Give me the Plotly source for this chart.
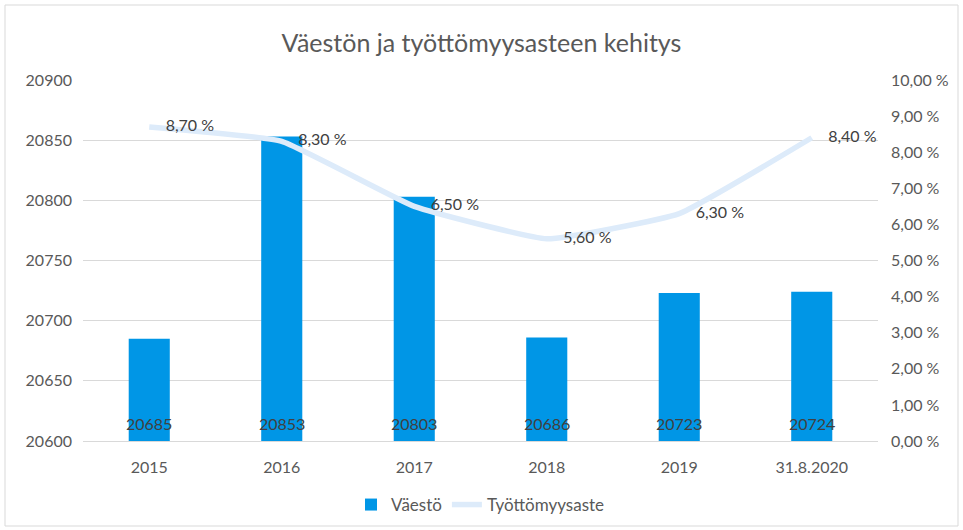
import plotly.graph_objects as go

categories = ["2015", "2016", "2017", "2018", "2019", "31.8.2020"]
vaesto = [20685, 20853, 20803, 20686, 20723, 20724]
tyottomyys = [8.70, 8.30, 6.50, 5.60, 6.30, 8.40]
left_ticks = [20600, 20650, 20700, 20750, 20800, 20850, 20900]
right_ticks = [0, 1, 2, 3, 4, 5, 6, 7, 8, 9, 10]
right_labels = [f"{v:.2f}".replace(".", ",") + " %" for v in right_ticks]
line_labels = ["    " + f"{v:.2f}".replace(".", ",") + " %" for v in tyottomyys]

FONT = "Lato, Open Sans, sans-serif"
TXT = "#595959"

fig = go.Figure()
fig.add_trace(go.Bar(
    x=categories, y=vaesto, name="Väestö",
    marker=dict(color="#0096E6", line=dict(width=0)),
    width=0.31,
))
fig.add_trace(go.Scatter(
    x=categories, y=tyottomyys, name="Työttömyysaste", yaxis="y2",
    mode="lines+text", line=dict(color="#DDEBFA", width=5.5, shape="spline", smoothing=0.35),
    text=line_labels, textposition="middle right",
    textfont=dict(size=16, color="#404040", family=FONT),
    cliponaxis=False,
))

# bar value labels at the bar bases (category index positions)
for i, v in enumerate(vaesto):
    fig.add_annotation(x=i, y=left_ticks[0], xref="x", yref="y", text=str(v),
                       showarrow=False, yanchor="bottom", yshift=6,
                       font=dict(size=16, color="#404040", family=FONT))

L, R, T, B = 83, 85, 80, 89
W, H = 963, 530
pw, ph = W - L - R, H - T - B

def px(x):
    return (x - L) / pw

def py(y):
    return (H - B - y) / ph

fig.add_shape(type="rect", xref="paper", yref="paper",
              x0=px(5), x1=px(958), y0=py(526), y1=py(5),
              line=dict(color="#D9D9D9", width=1), fillcolor="rgba(0,0,0,0)", layer="below")

fig.update_layout(
    width=W, height=H,
    margin=dict(l=L, r=R, t=T, b=B, autoexpand=False),
    paper_bgcolor="white", plot_bgcolor="white",
    font=dict(family=FONT, color=TXT, size=16),
    title=dict(text="Väestön ja työttömyysasteen kehitys", x=0.5, xanchor="center",
               y=1 - 43 / H, yanchor="middle",
               font=dict(size=25, color=TXT, family=FONT)),
    xaxis=dict(type="category", categoryorder="array", categoryarray=categories,
               range=[-0.5, len(categories) - 0.5],
               showgrid=False, showline=True, linecolor="#D9D9D9", linewidth=1,
               ticks="", tickfont=dict(size=16, color=TXT), automargin=False,
               ticklabelstandoff=12),
    yaxis=dict(range=[20600, 20900], tickvals=left_ticks, ticktext=[str(v) for v in left_ticks],
               showgrid=True, gridcolor="#D9D9D9", gridwidth=1, zeroline=False,
               showline=False, ticks="", tickfont=dict(size=16, color=TXT),
               ticklabelstandoff=10, automargin=False),
    yaxis2=dict(range=[0, 10], overlaying="y", side="right", tickvals=right_ticks,
                ticktext=right_labels, showgrid=False, zeroline=False, showline=False,
                ticks="", tickfont=dict(size=16, color=TXT), ticklabelstandoff=12,
                automargin=False),
    showlegend=True,
    legend=dict(orientation="h", x=0.5, xanchor="center", y=py(505), yanchor="middle",
                font=dict(size=17, color=TXT), bgcolor="rgba(0,0,0,0)"),
)
fig.write_html("out.html", config={"displayModeBar": False})

with open("out.html", encoding="utf-8") as f:
    html = f.read()
html = html.replace("<body>", '<body style="margin:0;padding:0;overflow:hidden">', 1)
with open("out.html", "w", encoding="utf-8") as f:
    f.write(html)
